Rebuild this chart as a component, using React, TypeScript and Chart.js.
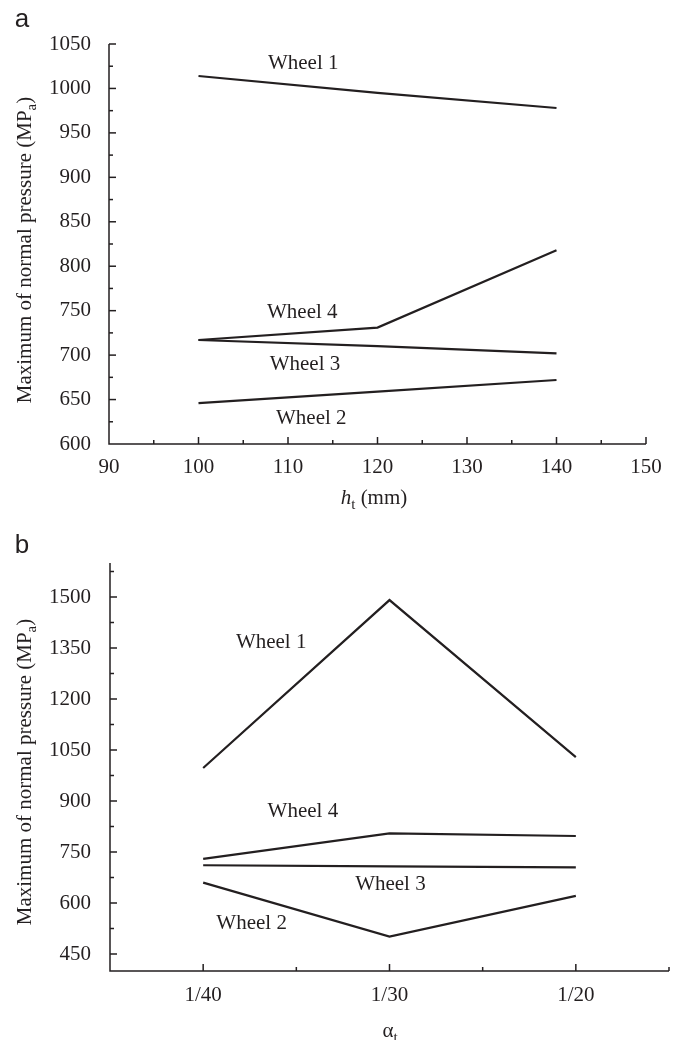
import React, { useEffect, useRef } from "react";
import { Chart, registerables } from "chart.js";

Chart.register(...registerables);

// ---------- data ----------
const topX = [100, 120, 140];
const topWheel1 = [1014, 995, 978];
const topWheel2 = [646, 659, 672];
const topWheel3 = [717, 710, 702];
const topWheel4 = [717, 731, 818];
const topLabelNames = ["Wheel 1", "Wheel 2", "Wheel 3", "Wheel 4"];
const topLabelX = [111.7, 112.6, 111.9, 111.6];
const topLabelY = [1028, 629, 690, 748];

const bottomCategories = ["1/40", "1/30", "1/20"];
const bottomX = [1, 3, 5];
const bottomWheel1 = [997, 1491, 1029];
const bottomWheel2 = [660, 501, 621];
const bottomWheel3 = [711, 708, 705];
const bottomWheel4 = [730, 805, 797];
const bottomLabelNames = ["Wheel 1", "Wheel 2", "Wheel 3", "Wheel 4"];
const bottomLabelX = [1.73, 1.52, 3.01, 2.07];
const bottomLabelY = [1365, 541, 653, 868];
const bottomYTicks = [450, 525, 600, 675, 750, 825, 900, 975, 1050, 1125, 1200, 1275, 1350, 1425, 1500, 1575];

// ---------- styles ----------
const INK = "#231f20";
const SERIF = '"Liberation Serif", "Times New Roman", serif';
const SANS = '"Liberation Sans", Arial, sans-serif';
const FS = 21;

type Seg = { t: string; sub?: boolean; italic?: boolean };

function drawRich(ctx: CanvasRenderingContext2D, segs: Seg[], cx: number, cy: number, rot: number) {
  ctx.save();
  ctx.translate(cx, cy);
  if (rot) ctx.rotate(rot);
  ctx.fillStyle = INK;
  ctx.textBaseline = "alphabetic";
  ctx.textAlign = "left";
  const fontOf = (s: Seg) => `${s.italic ? "italic " : ""}${s.sub ? 15 : FS}px ${SERIF}`;
  let total = 0;
  const widths = segs.map((s) => {
    ctx.font = fontOf(s);
    const w = ctx.measureText(s.t).width;
    total += w;
    return w;
  });
  let x = -total / 2;
  segs.forEach((s, i) => {
    ctx.font = fontOf(s);
    ctx.fillText(s.t, x, s.sub ? 12 : 7);
    x += widths[i];
  });
  ctx.restore();
}

type Extra = {
  panel: string;
  panelX: number;
  panelY: number;
  yTitle: Seg[];
  yTitlePos: [number, number];
  xTitle: Seg[];
  xTitlePos: [number, number];
  labels: string[];
  lx: number[];
  ly: number[];
};

function makePlugin(extra: Extra) {
  return {
    id: "paperAxes",
    afterDraw(chart: any) {
      const ctx: CanvasRenderingContext2D = chart.ctx;
      const { left, right, top, bottom } = chart.chartArea;
      const xs = chart.scales.x;
      const ys = chart.scales.y;
      ctx.save();
      ctx.strokeStyle = INK;
      ctx.lineWidth = 1.5;
      ctx.beginPath();
      ctx.moveTo(left, top);
      ctx.lineTo(left, bottom);
      ctx.lineTo(right, bottom);
      ctx.stroke();
      // x ticks (inward)
      xs.ticks.forEach((tk: any) => {
        if (tk.value <= xs.min) return;
        const px = xs.getPixelForValue(tk.value);
        const len = tk.label ? 7 : 4;
        ctx.beginPath();
        ctx.moveTo(px, bottom);
        ctx.lineTo(px, bottom - len);
        ctx.stroke();
      });
      ys.ticks.forEach((tk: any) => {
        if (tk.value <= ys.min) return;
        const py = ys.getPixelForValue(tk.value);
        const len = tk.label ? 7 : 4;
        ctx.beginPath();
        ctx.moveTo(left, py);
        ctx.lineTo(left + len, py);
        ctx.stroke();
      });
      // wheel labels
      ctx.fillStyle = INK;
      ctx.font = `${FS}px ${SERIF}`;
      ctx.textAlign = "center";
      ctx.textBaseline = "middle";
      extra.labels.forEach((name, i) => {
        ctx.fillText(name, xs.getPixelForValue(extra.lx[i]), ys.getPixelForValue(extra.ly[i]));
      });
      // panel letter
      ctx.font = `26px ${SANS}`;
      ctx.textAlign = "center";
      ctx.textBaseline = "middle";
      ctx.fillText(extra.panel, extra.panelX, extra.panelY);
      ctx.restore();
      drawRich(ctx, extra.yTitle, extra.yTitlePos[0], extra.yTitlePos[1], -Math.PI / 2);
      drawRich(ctx, extra.xTitle, extra.xTitlePos[0], extra.xTitlePos[1], 0);
    },
  };
}

const lineDs = (label: string, xv: number[], yv: number[]) => ({
  label,
  data: xv.map((x, i) => ({ x, y: yv[i] })),
  borderColor: INK,
  borderWidth: 2.2,
  pointRadius: 0,
  tension: 0,
  fill: false,
});

function ChartCanvas({ build }: { build: (c: HTMLCanvasElement) => Chart }) {
  const ref = useRef<HTMLCanvasElement | null>(null);
  useEffect(() => {
    if (!ref.current) return;
    const ch = build(ref.current);
    return () => ch.destroy();
  }, []);
  return <canvas ref={ref} width={681} height={520} style={{ display: "block", width: 681, height: 520 }} />;
}

const tickFont = { family: SERIF, size: FS };

function buildTop(canvas: HTMLCanvasElement) {
  return new Chart(canvas, {
    type: "line",
    data: {
      datasets: [
        lineDs("Wheel 1", topX, topWheel1),
        lineDs("Wheel 2", topX, topWheel2),
        lineDs("Wheel 3", topX, topWheel3),
        lineDs("Wheel 4", topX, topWheel4),
      ],
    },
    options: {
      responsive: false,
      maintainAspectRatio: false,
      devicePixelRatio: 1,
      animation: false,
      layout: { padding: { left: 0, right: 35, top: 44, bottom: 0 } },
      plugins: { legend: { display: false }, tooltip: { enabled: false } },
      scales: {
        x: {
          type: "linear",
          min: 90,
          max: 150,
          grid: { display: false, drawTicks: false },
          border: { display: false },
          ticks: {
            stepSize: 5,
            autoSkip: false,
            maxRotation: 0,
            padding: 11,
            color: INK,
            font: tickFont,
            callback: (v: any) => (Number(v) % 10 === 0 ? String(v) : ""),
          },
          afterFit: (s: any) => {
            s.height = 76;
          },
        },
        y: {
          type: "linear",
          min: 600,
          max: 1050,
          grid: { display: false, drawTicks: false },
          border: { display: false },
          ticks: {
            stepSize: 25,
            autoSkip: false,
            padding: 18,
            color: INK,
            font: tickFont,
            callback: (v: any) => (Number(v) % 50 === 0 ? String(v) : ""),
          },
          afterFit: (s: any) => {
            s.width = 109;
          },
        },
      },
    } as any,
    plugins: [
      makePlugin({
        panel: "a",
        panelX: 22,
        panelY: 20,
        yTitle: [{ t: "Maximum of normal pressure (MP" }, { t: "a", sub: true }, { t: ")" }],
        yTitlePos: [24, 250],
        xTitle: [{ t: "h", italic: true }, { t: "t", sub: true }, { t: " (mm)" }],
        xTitlePos: [374, 497],
        labels: topLabelNames,
        lx: topLabelX,
        ly: topLabelY,
      }),
    ],
  });
}

function buildBottom(canvas: HTMLCanvasElement) {
  return new Chart(canvas, {
    type: "line",
    data: {
      datasets: [
        lineDs("Wheel 1", bottomX, bottomWheel1),
        lineDs("Wheel 2", bottomX, bottomWheel2),
        lineDs("Wheel 3", bottomX, bottomWheel3),
        lineDs("Wheel 4", bottomX, bottomWheel4),
      ],
    },
    options: {
      responsive: false,
      maintainAspectRatio: false,
      devicePixelRatio: 1,
      animation: false,
      layout: { padding: { left: 0, right: 9, top: 43, bottom: 0 } },
      plugins: { legend: { display: false }, tooltip: { enabled: false } },
      scales: {
        x: {
          type: "linear",
          min: 0,
          max: 6,
          grid: { display: false, drawTicks: false },
          border: { display: false },
          ticks: {
            stepSize: 1,
            autoSkip: false,
            maxRotation: 0,
            padding: 12,
            color: INK,
            font: tickFont,
            callback: (v: any) => {
              const i = bottomX.indexOf(Number(v));
              return i >= 0 ? bottomCategories[i] : "";
            },
          },
          afterFit: (s: any) => {
            s.height = 69;
          },
        },
        y: {
          type: "linear",
          min: 400,
          max: 1600,
          grid: { display: false, drawTicks: false },
          border: { display: false },
          afterBuildTicks: (s: any) => {
            s.ticks = bottomYTicks.map((v) => ({ value: v }));
          },
          ticks: {
            autoSkip: false,
            padding: 19,
            color: INK,
            font: tickFont,
            callback: (v: any) => ((Number(v) - 450) % 150 === 0 ? String(v) : ""),
          },
          afterFit: (s: any) => {
            s.width = 110;
          },
        },
      },
    } as any,
    plugins: [
      makePlugin({
        panel: "b",
        panelX: 22,
        panelY: 26,
        yTitle: [{ t: "Maximum of normal pressure (MP" }, { t: "a", sub: true }, { t: ")" }],
        yTitlePos: [24, 252],
        xTitle: [{ t: "α" }, { t: "t", sub: true }],
        xTitlePos: [390, 510],
        labels: bottomLabelNames,
        lx: bottomLabelX,
        ly: bottomLabelY,
      }),
    ],
  });
}

export default function App() {
  return (
    <div style={{ position: "absolute", left: 0, top: 0, width: 681, height: 1040, background: "#fff" }}>
      <ChartCanvas build={buildTop} />
      <ChartCanvas build={buildBottom} />
    </div>
  );
}
